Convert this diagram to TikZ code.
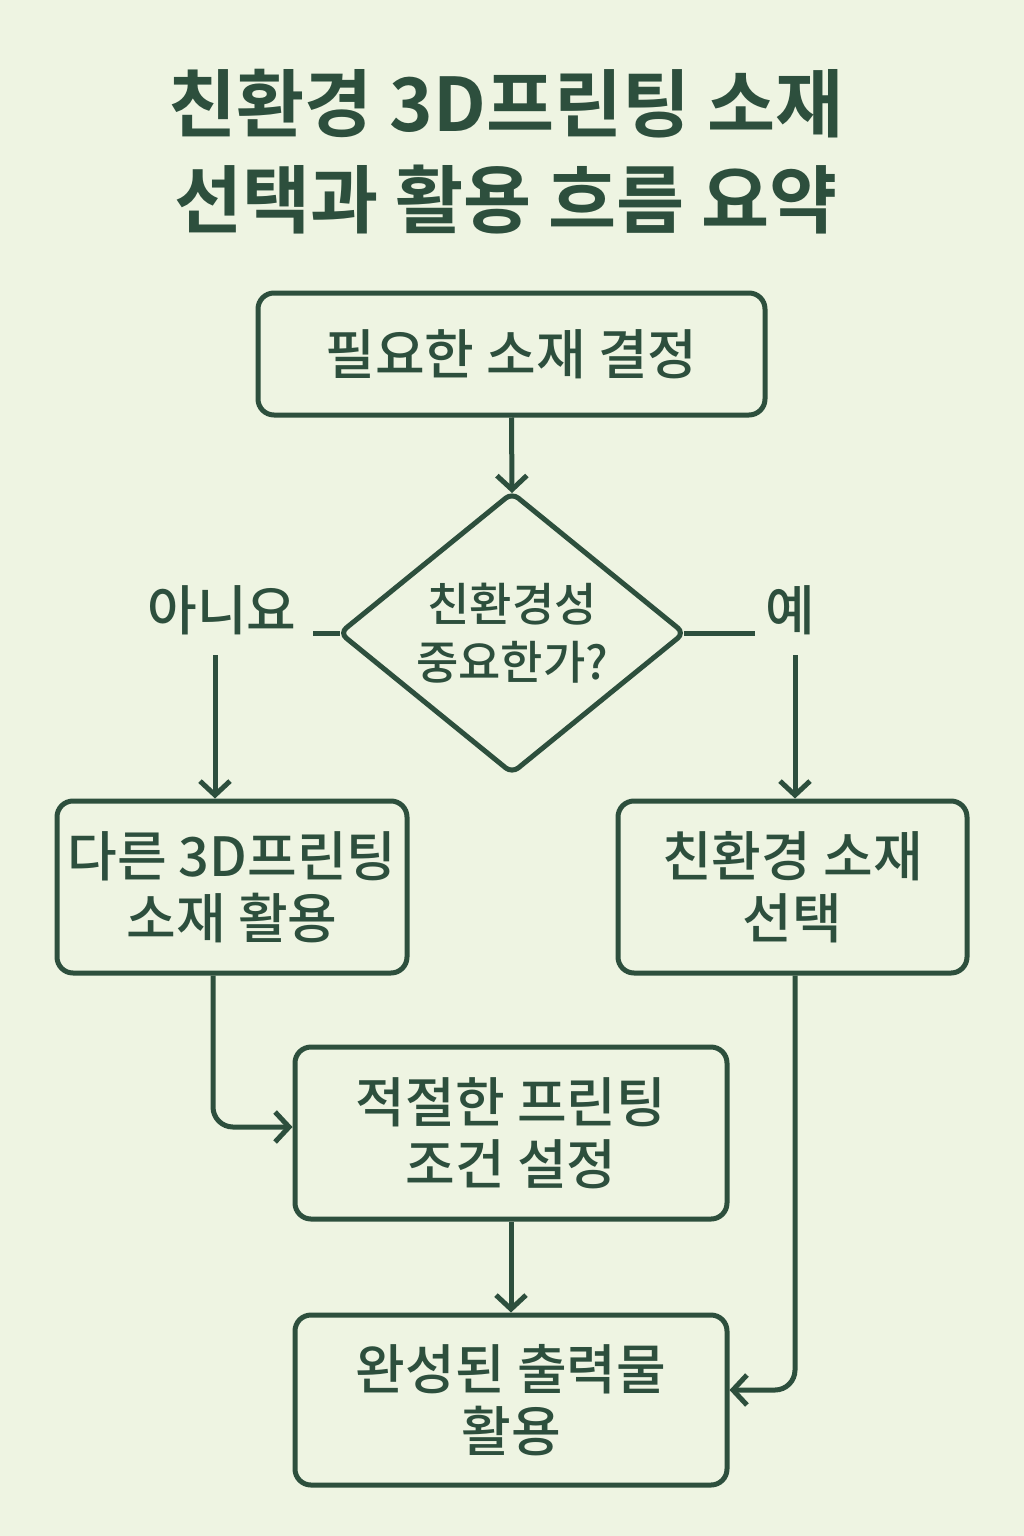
\documentclass[tikz,border=0pt]{standalone}
\usepackage{fontspec}
\setmainfont{Noto Sans CJK KR Medium}
\newfontfamily\titlefont{Noto Sans CJK KR Bold}
\usetikzlibrary{arrows.meta}
\definecolor{bg}{HTML}{EEF4E2}
\definecolor{dg}{HTML}{2D4F3D}
\tikzset{
 box/.style={draw=dg,line width=5pt,rounded corners=16pt,text=dg,align=center,font=\fontsize{54}{62}\selectfont},
 conn/.style={draw=dg,line width=5pt,-{Straight Barb[length=14pt,width=30pt,line width=5pt]}},
 plain/.style={draw=dg,line width=5pt},
 lbl/.style={text=dg,font=\fontsize{54}{60}\selectfont}
}
\begin{document}
\begin{tikzpicture}[x=1pt,y=-1pt]
\fill[bg] (0,0) rectangle (1024,1536);
\useasboundingbox (0,0) rectangle (1024,1536);
\node[text=dg,font=\titlefont\fontsize{74}{96}\selectfont,align=center] (title) at (506,152) {친환경 3D프린팅 소재\\선택과 활용 흐름 요약};
\node[box,minimum width=507pt,minimum height=122pt] (b1) at (511.5,354) {필요한 소재 결정};
\draw[plain,rounded corners=8pt] (512,493) coordinate (dt) -- (684,633) coordinate (dr) -- (512,773) coordinate (db) -- (340,633) coordinate (dl) -- cycle;
\node[text=dg,align=center,font=\fontsize{46}{58}\selectfont] (dq) at (512,633) {친환경성\\중요한가?};
\node[box,minimum width=350pt,minimum height=172pt] (bl) at (232,887) {다른 3D프린팅\\소재 활용};
\node[box,minimum width=349pt,minimum height=172pt] (br) at (792.5,887) {친환경 소재\\선택};
\node[box,minimum width=432pt,minimum height=172pt] (bm) at (511,1133) {적절한 프린팅\\조건 설정};
\node[box,minimum width=432pt,minimum height=170pt] (bb) at (511,1400) {완성된 출력물\\활용};
\node[lbl] (no) at (222,610) {아니요};
\node[lbl] (yes) at (790,610) {예};
\draw[conn] (b1.south) -- (dt);
\draw[plain] (dl) -- ++(-27,0);
\draw[plain] (dr) -- ++(71,0);
\draw[conn] (215,655) coordinate (nl) -- (bl.north -| nl);
\draw[conn] (795,655) coordinate (yl) -- (br.north -| yl);
\draw[conn,rounded corners=20pt] (bl.south -| 213,0) -- (213,1127) -- (bm.west |- 0,1127);
\draw[conn] (bm.south) -- (bb.north);
\draw[conn,rounded corners=20pt] (br.south -| 795,0) -- (795,1390) -- (bb.east |- 0,1390);
\end{tikzpicture}
\end{document}
